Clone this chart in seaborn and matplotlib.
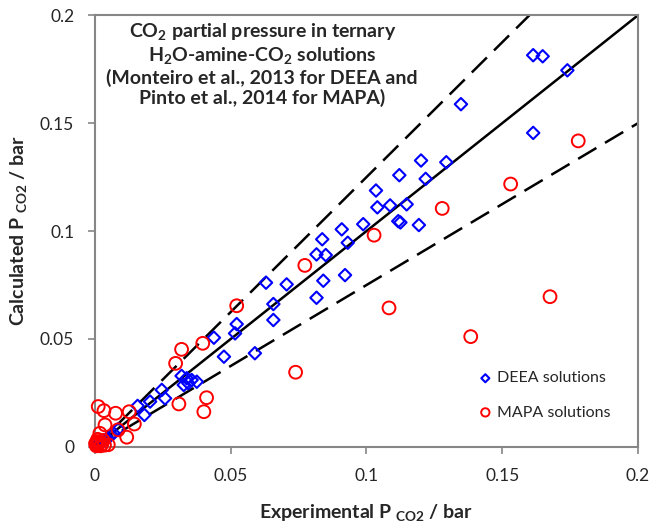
import matplotlib
matplotlib.use("Agg")
import matplotlib.pyplot as plt
from matplotlib.ticker import FuncFormatter
import seaborn as sns
import pandas as pd

# experimental vs calculated P_CO2 (bar)
deea_exp = [0.1614, 0.1649, 0.1740, 0.1614, 0.1348, 0.1201, 0.1294, 0.1121, 0.1218,
            0.1035, 0.1040, 0.1087, 0.1148, 0.1117, 0.1125, 0.1193, 0.0988, 0.0909,
            0.0931, 0.0921, 0.0837, 0.0816, 0.0850, 0.0841, 0.0816, 0.0630, 0.0706,
            0.0657, 0.0657, 0.0522, 0.0516, 0.0438, 0.0475, 0.0589, 0.0319, 0.0338,
            0.0327, 0.0356, 0.0375, 0.0344, 0.0246, 0.0258, 0.0203, 0.0157, 0.0182,
            0.0086, 0.0068, 0.0055, 0.0045, 0.0035, 0.0025, 0.0015, 0.0005]
deea_calc = [0.1815, 0.1810, 0.1745, 0.1455, 0.1588, 0.1327, 0.1319, 0.1259, 0.1242,
             0.1188, 0.1110, 0.1119, 0.1124, 0.1046, 0.1040, 0.1028, 0.1032, 0.1008,
             0.0946, 0.0796, 0.0962, 0.0892, 0.0889, 0.0770, 0.0691, 0.0761, 0.0753,
             0.0662, 0.0588, 0.0569, 0.0526, 0.0506, 0.0418, 0.0434, 0.0329, 0.0318,
             0.0287, 0.0310, 0.0302, 0.0295, 0.0264, 0.0225, 0.0210, 0.0190, 0.0148,
             0.0082, 0.0063, 0.0050, 0.0040, 0.0030, 0.0020, 0.0010, 0.0005]

mapa_exp = [0.1780, 0.1531, 0.1279, 0.1028, 0.1083, 0.1384, 0.1676, 0.0773, 0.0522,
            0.0397, 0.0739, 0.0411, 0.0401, 0.0319, 0.0297, 0.0309, 0.0012, 0.0033,
            0.0076, 0.0126, 0.0145, 0.0037, 0.0018, 0.0117, 0.0085, 0.0049,
            0.0005, 0.0010, 0.0015, 0.0020, 0.0008, 0.0030, 0.0025, 0.0002, 0.0035, 0.0010]
mapa_calc = [0.1418, 0.1218, 0.1105, 0.0981, 0.0644, 0.0511, 0.0696, 0.0841, 0.0654,
             0.0480, 0.0346, 0.0228, 0.0163, 0.0452, 0.0387, 0.0199, 0.0187, 0.0168,
             0.0156, 0.0163, 0.0106, 0.0102, 0.0063, 0.0045, 0.0079, 0.0010,
             0.0005, 0.0010, 0.0020, 0.0005, 0.0025, 0.0030, 0.0012, 0.0015, 0.0008, 0.0035]

line_x = [0.0, 0.2]
dev_factors = [1.25, 0.75]   # +/- 25 % bounds

sns.set_style("white")
plt.rcParams['font.family'] = ['Lato', 'DejaVu Sans']
plt.rcParams['mathtext.fontset'] = 'custom'
plt.rcParams['mathtext.rm'] = 'Lato'
plt.rcParams['mathtext.bf'] = 'Lato:bold'

deea = pd.DataFrame({'exp': deea_exp, 'calc': deea_calc})
mapa = pd.DataFrame({'exp': mapa_exp, 'calc': mapa_calc})

fig = plt.figure(figsize=(6.55, 5.27), dpi=100)
ax = fig.add_axes([0.145, 0.152, 0.829, 0.819])

ax.plot(line_x, line_x, color='black', lw=1.8, zorder=2)
for f in dev_factors:
    ax.plot(line_x, [v * f for v in line_x], color='black', lw=1.8,
            dashes=(8.5, 4), zorder=2)

sns.scatterplot(data=deea, x='exp', y='calc', marker='D', s=40, facecolor='none',
                edgecolor='#0000ff', linewidth=1.5, label='DEEA solutions', ax=ax,
                zorder=3, clip_on=False)
sns.scatterplot(data=mapa, x='exp', y='calc', marker='o', s=85, facecolor='none',
                edgecolor='#ff0000', linewidth=1.4, label='MAPA solutions', ax=ax,
                zorder=4, clip_on=False)

ax.set_xlim(0, 0.2)
ax.set_ylim(0, 0.2)
ax.set_xticks([0, 0.05, 0.1, 0.15, 0.2])
ax.set_yticks([0, 0.05, 0.1, 0.15, 0.2])
fmt = FuncFormatter(lambda v, p: '%g' % round(v, 3))
ax.xaxis.set_major_formatter(fmt)
ax.yaxis.set_major_formatter(fmt)
ax.tick_params(direction='out', length=5, width=1.2, color='#868686',
               labelsize=12.5, pad=10, bottom=True, left=True)
for sp in ax.spines.values():
    sp.set_color('#868686')
    sp.set_linewidth(1.5)

ax.set_xlabel(r'Experimental P $_{\mathbf{CO2}}$ / bar', fontsize=14, fontweight='bold', labelpad=14)
ax.set_ylabel(r'Calculated P $_{\mathbf{CO2}}$ / bar', fontsize=14, fontweight='bold', labelpad=7)

ax.text(0.308, 0.985,
        'CO$_\\mathbf{2}$ partial pressure in ternary\n'
        'H$_\\mathbf{2}$O-amine-CO$_\\mathbf{2}$ solutions\n'
        '(Monteiro et al., 2013 for DEEA and\n'
        'Pinto et al., 2014 for MAPA)',
        transform=ax.transAxes, ha='center', va='top', fontsize=14,
        fontweight='bold', linespacing=1.15)

ax.legend(loc='lower right', bbox_to_anchor=(0.975, 0.03), frameon=False,
          fontsize=11.5, markerscale=0.65, handletextpad=0.2, labelspacing=1.25,
          handlelength=1.0)

fig.savefig('out.png', dpi=100)
